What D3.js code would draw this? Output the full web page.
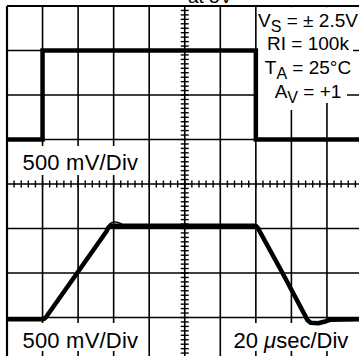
<!DOCTYPE html>
<html>
<head>
<meta charset="utf-8">
<script src="https://cdn.jsdelivr.net/npm/d3@7"></script>
<style>
  body { margin: 0; background: #fff; }
  text { font-family: "Liberation Sans", Arial, sans-serif; fill: #000; }
</style>
</head>
<body>
<div id="scope"></div>
<script>
// time axis in µs (20 µs/Div, 10 divisions)
var timeTicks = [0, 20, 40, 60, 80, 100, 120, 140, 160, 180, 200];
// vertical divisions (8 of them, 500 mV each)
var divTicks = [0, 1, 2, 3, 4, 5, 6, 7, 8];

// input pulse, upper channel (V)
var inTime = [0, 20, 20, 140, 140, 200];
var inVolt = [-0.5, -0.5, 0.5, 0.5, -0.5, -0.5];

// output, lower channel (V)
var outTime = [0, 19.8, 20.8, 21.8, 39.5, 56, 57, 58.5, 100, 140, 141, 155, 167.5, 169, 171, 175, 179, 182, 200];
var outVolt = [-0.52, -0.52, -0.515, -0.5, 0, 0.47, 0.51, 0.53, 0.53, 0.53, 0.51, 0, -0.47, -0.53, -0.56, -0.565, -0.545, -0.525, -0.52];

// thin overshoot ring on the rising edge
var ovTime = [56, 58, 61, 64, 66];
var ovVolt = [0.5, 0.565, 0.58, 0.56, 0.53];

// test conditions
var condLines = [
    [["V", ""], ["S", "sub"], [" = \u00b1 2.5V", ""]],
    [["RI = 100k", ""]],
    [["T", ""], ["A", "sub"], [" = 25\u00b0C", ""]],
    [["A", ""], ["V", "sub"], [" = +1", ""]]
];

var width = 359, height = 356;

var svg = d3.select("#scope")
    .append("svg")
    .attr("width", width)
    .attr("height", height)
    .style("display", "block");

// scales
var x = d3.scaleLinear().domain([0, 200]).range([7, 362.5]);
var yDiv = d3.scaleLinear().domain([0, 8]).range([6, 362]);
var yTop = d3.scaleLinear().domain([-1, 1]).range([184, 6]);
var yLow = d3.scaleLinear().domain([-1, 1]).range([362, 184]);

// grid
svg.append("g").selectAll("line")
    .data(timeTicks)
    .enter()
    .append("line")
    .attr("x1", function(d) { return x(d); })
    .attr("x2", function(d) { return x(d); })
    .attr("y1", yDiv(0))
    .attr("y2", yDiv(8))
    .attr("stroke", "#000")
    .attr("stroke-width", function(d, i) { return i == 0 ? 2.2 : 1.6; });

svg.append("g").selectAll("line")
    .data(divTicks)
    .enter()
    .append("line")
    .attr("x1", x(0))
    .attr("x2", x(200))
    .attr("y1", function(d) { return yDiv(d); })
    .attr("y2", function(d) { return yDiv(d); })
    .attr("stroke", "#000")
    .attr("stroke-width", function(d, i) { return i == 0 ? 2.2 : 1.6; });

// minor ticks on the centre lines
var hTicks = d3.range(0, 201, 4);
svg.append("g").selectAll("line")
    .data(hTicks)
    .enter()
    .append("line")
    .attr("x1", function(d) { return x(d); })
    .attr("x2", function(d) { return x(d); })
    .attr("y1", yDiv(4) - 3.5)
    .attr("y2", yDiv(4) + 3.5)
    .attr("stroke", "#000")
    .attr("stroke-width", 1.4);

var vTicks = d3.range(0, 81, 1).map(function(d) { return d / 10; });
svg.append("g").selectAll("line")
    .data(vTicks)
    .enter()
    .append("line")
    .attr("x1", x(100) - 4)
    .attr("x2", x(100) + 4)
    .attr("y1", function(d) { return yDiv(d); })
    .attr("y2", function(d) { return yDiv(d); })
    .attr("stroke", "#000")
    .attr("stroke-width", 1.4);

// white boxes behind labels
var boxes = [
    [12, 146, 131, 29],
    [12, 323, 131, 28],
    [229, 323, 124, 28],
    [257, 7.2, 102, 23],
    [257, 30, 96, 24],
    [257, 54, 102, 24],
    [257, 78, 90, 25],
    [283, 100, 16, 10]
];
svg.append("g").selectAll("rect")
    .data(boxes)
    .enter()
    .append("rect")
    .attr("x", function(d) { return d[0]; })
    .attr("y", function(d) { return d[1]; })
    .attr("width", function(d) { return d[2]; })
    .attr("height", function(d) { return d[3]; })
    .attr("fill", "#fff");

// labels
svg.append("text").attr("x", 22.5).attr("y", 169.5)
    .style("font-size", "22px").style("letter-spacing", "0.2px").text("500 mV/Div");
svg.append("text").attr("x", 22.5).attr("y", 347.5)
    .style("font-size", "22px").style("letter-spacing", "0.2px").text("500 mV/Div");
var tl = svg.append("text").attr("x", 233.5).attr("y", 347.5).style("font-size", "22px");
tl.append("tspan").text("20 ");
tl.append("tspan").style("font-style", "italic").text("\u03bc");
tl.append("tspan").text("sec/Div");

// title, cut off at the top edge as in the original
svg.append("text").attr("x", 188).attr("y", 2.5)
    .style("font-size", "19px").text("at 5V");

// conditions block
var baselines = [26.5, 50, 74, 98];
condLines.forEach(function(parts, i) {
    var t = svg.append("text")
        .attr("x", 308)
        .attr("y", baselines[i])
        .attr("text-anchor", "middle")
        .style("font-size", "19px");
    parts.forEach(function(p) {
        var s = t.append("tspan").text(p[0]);
        if (p[1] == "sub") {
            s.attr("dy", 5).style("font-size", "16px");
        } else if (s.node().previousSibling) {
            s.attr("dy", -5);
        }
    });
});

// traces
var inData = inTime.map(function(t, i) { return [t, inVolt[i]]; });
var outData = outTime.map(function(t, i) { return [t, outVolt[i]]; });
var ovData = ovTime.map(function(t, i) { return [t, ovVolt[i]]; });

var inLine = d3.line()
    .x(function(d) { return x(d[0]); })
    .y(function(d) { return yTop(d[1]); });

var outLine = d3.line()
    .x(function(d) { return x(d[0]); })
    .y(function(d) { return yLow(d[1]); });

var ringLine = d3.line()
    .curve(d3.curveBasis)
    .x(function(d) { return x(d[0]); })
    .y(function(d) { return yLow(d[1]); });

svg.append("path")
    .attr("d", inLine(inData))
    .attr("fill", "none")
    .attr("stroke", "#000")
    .attr("stroke-width", 4.5);

svg.append("path")
    .attr("d", outLine(outData))
    .attr("fill", "none")
    .attr("stroke", "#000")
    .attr("stroke-width", 4.5)
    .attr("stroke-linejoin", "round");

svg.append("path")
    .attr("d", ringLine(ovData))
    .attr("fill", "none")
    .attr("stroke", "#000")
    .attr("stroke-width", 1.5);
</script>
</body>
</html>
